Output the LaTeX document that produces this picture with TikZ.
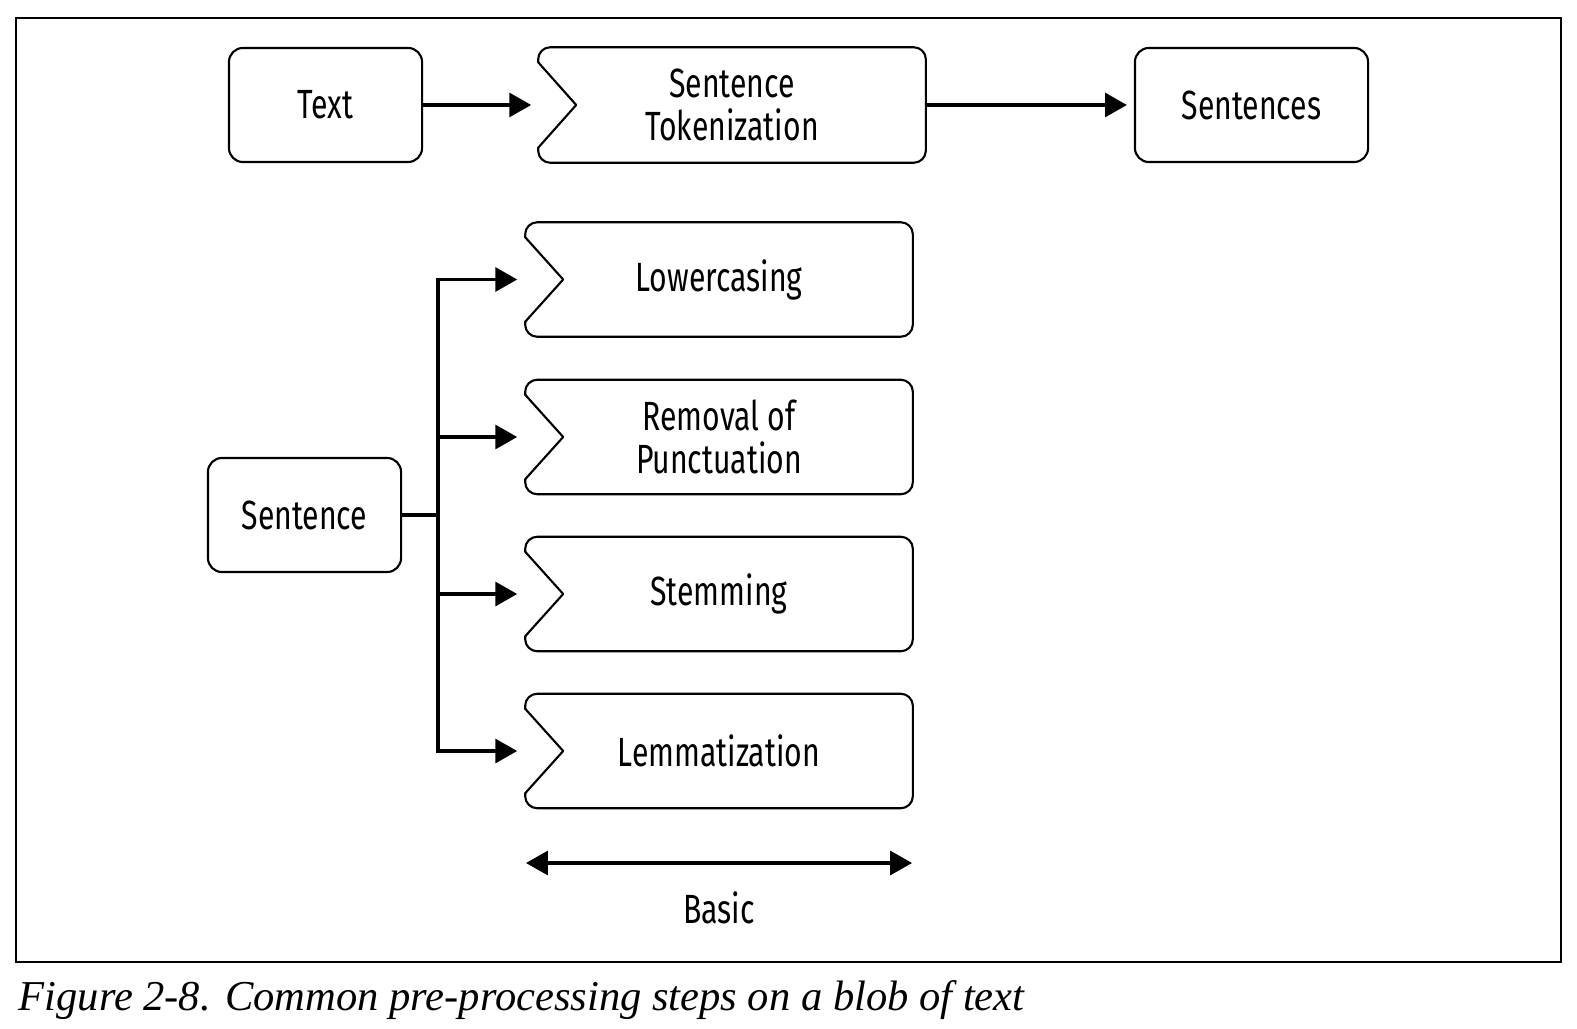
\documentclass[tikz,border=0pt]{standalone}
\usepackage{fontspec}
\setmainfont{Liberation Serif}
\newfontfamily\nodefont[FakeStretch=0.74]{Fira Sans}
\usetikzlibrary{arrows.meta,calc}
\tikzset{
  boxline/.style={line width=0.6pt, line cap=round, line join=round},
  nodetext/.style={font=\nodefont\fontsize{11.6}{12.4}\selectfont},
  plainbox/.style={draw, boxline, rounded corners=0.14cm, minimum width=1.93cm, minimum height=1.14cm, inner sep=0pt, align=center, nodetext},
  stepbox/.style={inner sep=0pt, minimum width=3.86cm, minimum height=1.13cm, align=center, nodetext},
  conn/.style={line width=0.9pt, -{Triangle[length=6.2pt,width=6.8pt]}},
}
\newcommand{\chevronoutline}[1]{%
  \draw[boxline, rounded corners=0.12cm] ($(#1.north west)+(0,15)$) -- (#1.north west) -- (#1.north east) -- (#1.south east) -- (#1.south west) -- ($(#1.south west)+(0,-15)$);
  \draw[boxline] ($(#1.north west)+(0,15)$) -- ($(#1.west)+(38,0)$) -- ($(#1.south west)+(0,-15)$);
}
\begin{document}
\begin{tikzpicture}[x=0.01cm, y=-0.01cm]
\useasboundingbox (0,0) rectangle (1577,1028);
\draw[line width=0.35pt] (16,18) rectangle (1561,962);

\node[plainbox] (text) at (325.5,105) {Text};
\node[stepbox, minimum height=1.14cm] (tok) at (732,105) {Sentence\\Tokenization};
\chevronoutline{tok}
\node[plainbox, minimum width=2.33cm] (sents) at (1251.5,105) {Sentences};
\draw[conn, shorten >=0.07cm] (text.east) -- (tok.west);
\draw[conn, shorten >=0.07cm] (tok.east) -- (sents.west);

\node[plainbox] (sent) at (304.5,515) {Sentence};
\node[stepbox] (low) at (719,279.5) {Lowercasing};
\node[stepbox] (punc) at (719,437) {Removal of\\Punctuation};
\node[stepbox] (stem) at (719,594) {Stemming};
\node[stepbox] (lem) at (719,751) {Lemmatization};
\chevronoutline{low}
\chevronoutline{punc}
\chevronoutline{stem}
\chevronoutline{lem}

\coordinate (trunk) at (438,515);
\draw[line width=0.9pt] (sent.east) -- (trunk);
\draw[line width=0.9pt, line cap=rect] (trunk |- low.west) -- (trunk |- lem.west);
\foreach \n in {low,punc,stem,lem}{
  \draw[conn, shorten >=0.08cm] (trunk |- \n.west) -- (\n.west);
}

\coordinate (bl) at (526,863);
\coordinate (br) at (912,863);
\draw[line width=0.9pt, {Triangle[length=6.2pt,width=6.8pt]}-{Triangle[length=6.2pt,width=6.8pt]}] (bl) -- (br);
\node[nodetext] (basic) at (719,908) {Basic};

\node[anchor=base west, inner sep=0pt, font=\itshape\fontsize{12.1}{14}\selectfont] (cap) at (18,1010) {Figure 2-8. Common pre-processing steps on a blob of text};
\end{tikzpicture}
\end{document}
